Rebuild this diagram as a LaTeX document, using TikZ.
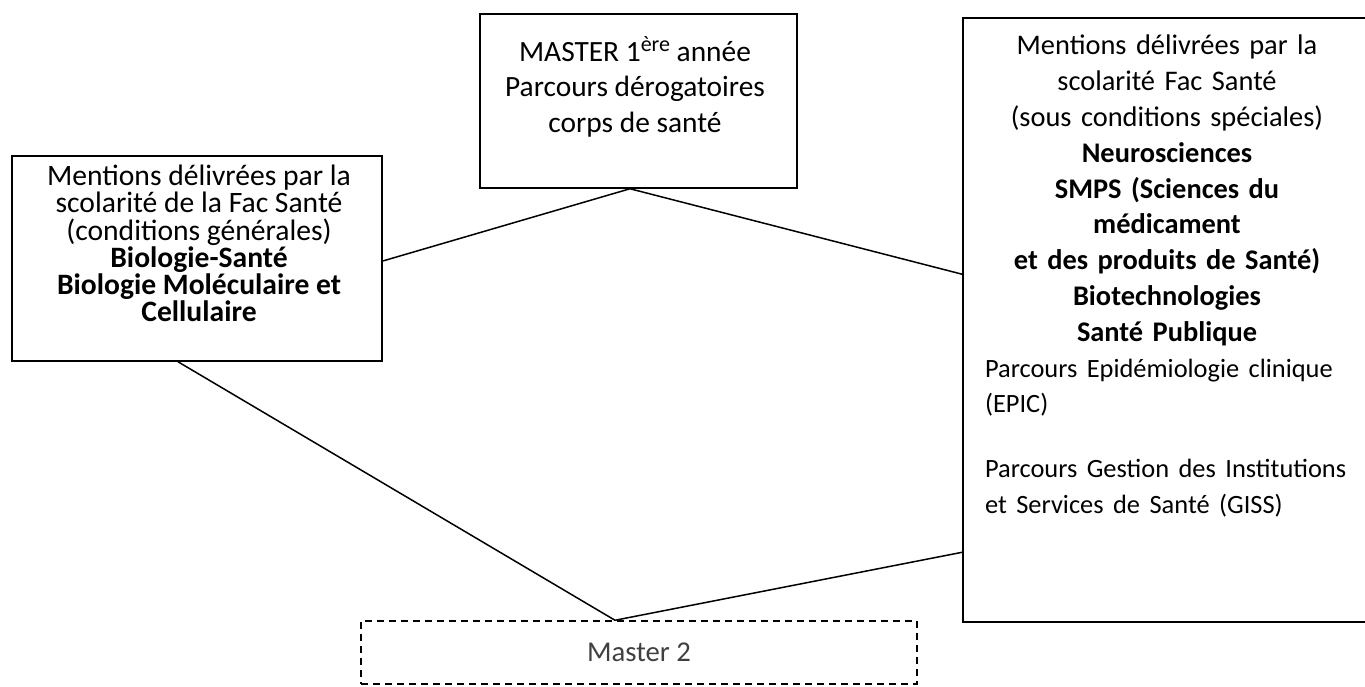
\documentclass[tikz,border=0pt]{standalone}
\usepackage{fontspec}
\setmainfont{Carlito}
\definecolor{mastergray}{HTML}{404040}
\newcommand{\ere}{\raisebox{10pt}{\fontsize{22}{22}\selectfont ère}}
\newcommand{\parcline}[1]{\makebox[364pt][l]{\fontsize{26.4}{35.8}\selectfont #1}}
\tikzset{
  box/.style={draw, line width=1.5pt, inner sep=0pt},
  txt/.style={inner sep=0pt, align=center, font=\fontsize{28.7}{35.8}\selectfont},
  link/.style={line width=1.5pt},
}
\begin{document}
\begin{tikzpicture}[x=1pt,y=-1pt]
\useasboundingbox (0,0) rectangle (1365,686);
% boxes
\node[box, minimum width=317pt, minimum height=174pt] (master1) at (638.5,101) {};
\node[box, minimum width=370pt, minimum height=205pt] (generales) at (197,258.5) {};
\node[box, minimum width=407pt, minimum height=604pt] (speciales) at (1166.5,320) {};
\node[box, dash pattern=on 7pt off 5pt, minimum width=556pt, minimum height=63pt,
  text=mastergray, font=\fontsize{28.7}{35.8}\selectfont] (master2) at (639,652.5) {Master 2};
% texts
\node[txt, anchor=north, font=\fontsize{29.4}{35.6}\selectfont] (master1txt) at (635,36)
  {MASTER 1\ere{} année\\Parcours dérogatoires\\corps de santé};
\node[txt, anchor=north, font=\fontsize{29.6}{27.2}\selectfont] (generalestxt) at (199,165)
  {Mentions délivrées par la\\scolarité de la Fac Santé\\(conditions générales)\\
   \textbf{Biologie-Santé}\\\textbf{Biologie Moléculaire et}\\\textbf{Cellulaire}};
\node[txt, anchor=north, text width=364pt, font=\fontsize{28.4}{35.8}\selectfont] (specialestxt) at (1167,35)
  {Mentions délivrées par la\\scolarité Fac Santé\\(sous conditions spéciales)\\
   \textbf{Neurosciences}\\\textbf{SMPS (Sciences du}\\\textbf{médicament}\\
   \textbf{et des produits de Santé)}\\\textbf{Biotechnologies}\\\textbf{Santé Publique}\\
   \parcline{Parcours Epidémiologie clinique}\\
   \parcline{(EPIC)}\\[29pt]
   \parcline{Parcours Gestion des Institutions}\\
   \parcline{et Services de Santé (GISS)}};
% links
\draw[link] ([yshift=-2.5pt]generales.east) -- ([xshift=-8.5pt]master1.south)
  -- ([yshift=-257pt]speciales.north west);
\draw[link] ([xshift=-19pt]generales.south) -- ([xshift=-24pt]master2.north)
  -- ([yshift=-535pt]speciales.north west);
\end{tikzpicture}
\end{document}
